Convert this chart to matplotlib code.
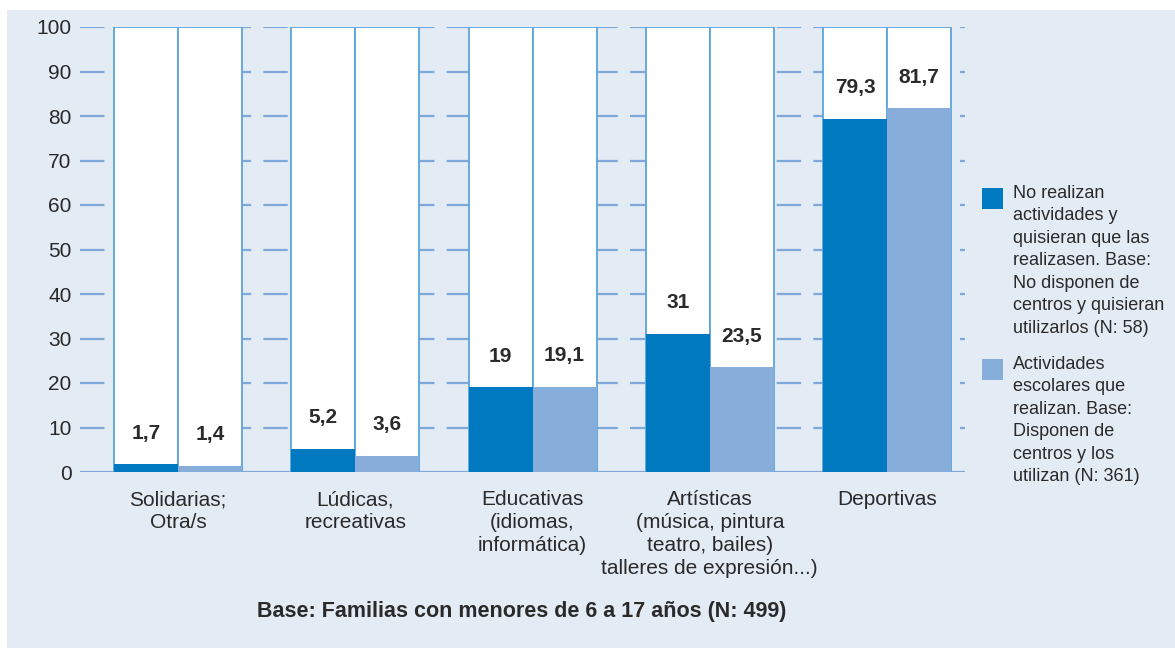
import matplotlib.pyplot as plt
from matplotlib.patches import Rectangle

plt.rcParams['font.family'] = ['Liberation Sans', 'DejaVu Sans']

# data
categories = ['Solidarias;\nOtra/s', 'Lúdicas,\nrecreativas', 'Educativas\n(idiomas,\ninformática)',
              'Artísticas\n(música, pintura\nteatro, bailes)\ntalleres de expresión...)', 'Deportivas']
no_realizan = [1.7, 5.2, 19, 31, 79.3]
escolares = [1.4, 3.6, 19.1, 23.5, 81.7]
labels_no = ['1,7', '5,2', '19', '31', '79,3']
labels_esc = ['1,4', '3,6', '19,1', '23,5', '81,7']
legend_no = ('No realizan\nactividades y\nquisieran que las\nrealizasen. Base:\n'
             'No disponen de\ncentros y quisieran\nutilizarlos (N: 58)')
legend_esc = ('Actividades\nescolares que\nrealizan. Base:\nDisponen de\n'
              'centros y los\nutilizan (N: 361)')
footer = 'Base: Familias con menores de 6 a 17 años (N: 499)'

dark = '#0079c1'
light = '#87aedb'
bg = '#e3ebf5'
edge = '#5aa5dc'
grid = '#7fa9db'
txt = '#2a2a2a'

W, H = 1175, 655
fig = plt.figure(figsize=(W / 100, H / 100), dpi=100, facecolor='white')
fig.patches.append(Rectangle((7 / W, 7 / H), 1 - 7 / W, (H - 17) / H,
                             transform=fig.transFigure, facecolor=bg, edgecolor='none', zorder=-10))

ax = fig.add_axes([80 / W, 183 / H, 885 / W, 445 / H])
ax.set_facecolor('none')
x = list(range(len(categories)))
step = 177.25
ax.set_xlim(-98 / step, 787 / step)
ax.set_ylim(0, 100)
w = 64 / step

# dashed gridlines behind bars
for yv in range(10, 101, 10):
    ax.axhline(yv, color=grid, lw=1.6, dashes=(11, 5.5), zorder=1)
ax.axhline(0, color=grid, lw=1.6, zorder=1)

xl = [i - w / 2 for i in x]
xr = [i + w / 2 for i in x]
ax.bar(xl, [100] * len(x), w, color='white', edgecolor=edge, linewidth=1.3, zorder=2)
ax.bar(xr, [100] * len(x), w, color='white', edgecolor=edge, linewidth=1.3, zorder=2)
ax.bar(xl, no_realizan, w, color=dark, edgecolor='none', zorder=3)
ax.bar(xr, escolares, w, color=light, edgecolor='none', zorder=3)

for i in x:
    ax.text(xl[i], no_realizan[i] + 7, labels_no[i], ha='center', va='center',
            fontsize=15, fontweight='bold', color=txt, zorder=4)
    ax.text(xr[i], escolares[i] + 7, labels_esc[i], ha='center', va='center',
            fontsize=15, fontweight='bold', color=txt, zorder=4)

for s in ax.spines.values():
    s.set_visible(False)
ax.set_yticks(range(0, 101, 10))
ax.tick_params(axis='y', length=0, pad=6, labelsize=15, labelcolor=txt)
ax.set_xticks(x)
ax.set_xticklabels(categories, linespacing=1.27)
ax.tick_params(axis='x', length=0, pad=13, labelsize=15, labelcolor=txt)

# legend
for top, col, lab in [(188, dark, legend_no), (359, light, legend_esc)]:
    fig.patches.append(Rectangle((982 / W, 1 - (top + 21) / H), 21 / W, 21 / H,
                                 transform=fig.transFigure, facecolor=col, edgecolor='none'))
    fig.text(1013 / W, 1 - (top - 3) / H, lab, ha='left', va='top', fontsize=13,
             color=txt, linespacing=1.42)

fig.text(522 / W, 1 - 612 / H, footer, ha='center', va='center', fontsize=15.5,
         fontweight='bold', color=txt)

fig.savefig('out.png', dpi=100, facecolor='white')
